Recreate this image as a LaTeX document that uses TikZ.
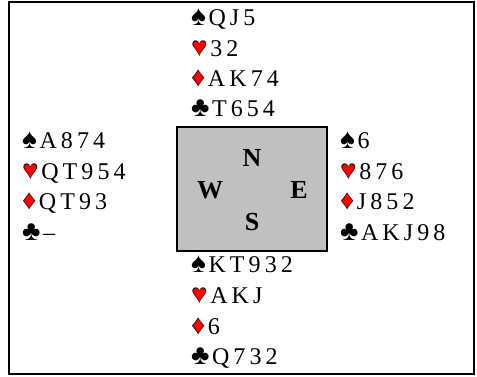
\documentclass[tikz,border=0pt]{standalone}
\usepackage{fontspec}
\setmainfont{Liberation Serif}
\newfontfamily\handfont{Liberation Serif}[LetterSpace=17]
\newfontfamily\suitfont{Liberation Serif}
\usepackage{tikz}
\usetikzlibrary{positioning}
\definecolor{boardgray}{HTML}{C0C0C0}
\newcommand{\suit}[1]{{\suitfont\fontsize{28}{24}\selectfont #1}\kern2.5pt}
% red suit with a thin black rim
\newcommand{\redsuit}[1]{{\suitfont\ooalign{\hfil\fontsize{28}{24}\selectfont #1\hfil\cr
    \hfil\raisebox{1.1pt}{\fontsize{24.5}{24}\selectfont\textcolor{red}{#1}}\hfil\cr}}\kern2.5pt}
\newcommand{\spd}{\suit{♠}}
\newcommand{\hrt}{\redsuit{♥}}
\newcommand{\dia}{\redsuit{♦}}
\newcommand{\clb}{\suit{♣}}

\begin{document}
\begin{tikzpicture}[x=1pt, y=1pt, node distance=30.7pt,
    card/.style = {anchor=west, inner sep=0pt, text height=15pt, text depth=4pt, font=\handfont\fontsize{24}{24}\selectfont},
    seat/.style = {inner sep=0pt, font=\bfseries\fontsize{26}{24}\selectfont}]
    \useasboundingbox (0,0) rectangle (477,-377);
    \draw[line width=1.6pt] (9,-2) rectangle (474,-374);
    \node[draw, line width=1.6pt, fill=boardgray, minimum width=150pt, minimum height=124pt, inner sep=0pt] (board) at (252,-189) {};

    % compass
    \node[seat] (N) at (252,-158) {N};
    \node[seat] (S) at (252,-222) {S};
    \node[seat] (W) at (210,-190) {W};
    \node[seat] (E) at (299,-190) {E};

    % north
    \node[card] (ns) at (191,-20) {\spd QJ5};
    \node[card] (nh) [below=30.7pt of ns.west, anchor=west] {\hrt 32};
    \node[card] (nd) [below=30.7pt of nh.west, anchor=west] {\dia AK74};
    \node[card] (nc) [below=29.5pt of nd.west, anchor=west] {\clb T654};

    % west
    \node[card] (ws) at (22,-143) {\spd A874};
    \node[card] (wh) [below=30.7pt of ws.west, anchor=west] {\hrt QT954};
    \node[card] (wd) [below=30.7pt of wh.west, anchor=west] {\dia QT93};
    \node[card] (wc) [below=30.7pt of wd.west, anchor=west] {\clb –};

    % east
    \node[card] (es) at (340,-143) {\spd 6};
    \node[card] (eh) [below=30.7pt of es.west, anchor=west] {\hrt 876};
    \node[card] (ed) [below=30.7pt of eh.west, anchor=west] {\dia J852};
    \node[card] (ec) [below=30.7pt of ed.west, anchor=west] {\clb AKJ98};

    % south
    \node[card] (ss) at (191,-267) {\spd KT932};
    \node[card] (sh) [below=30.8pt of ss.west, anchor=west] {\hrt AKJ};
    \node[card] (sd) [below=30.8pt of sh.west, anchor=west] {\dia 6};
    \node[card] (sc) [below=30.8pt of sd.west, anchor=west] {\clb Q732};
\end{tikzpicture}
\end{document}
